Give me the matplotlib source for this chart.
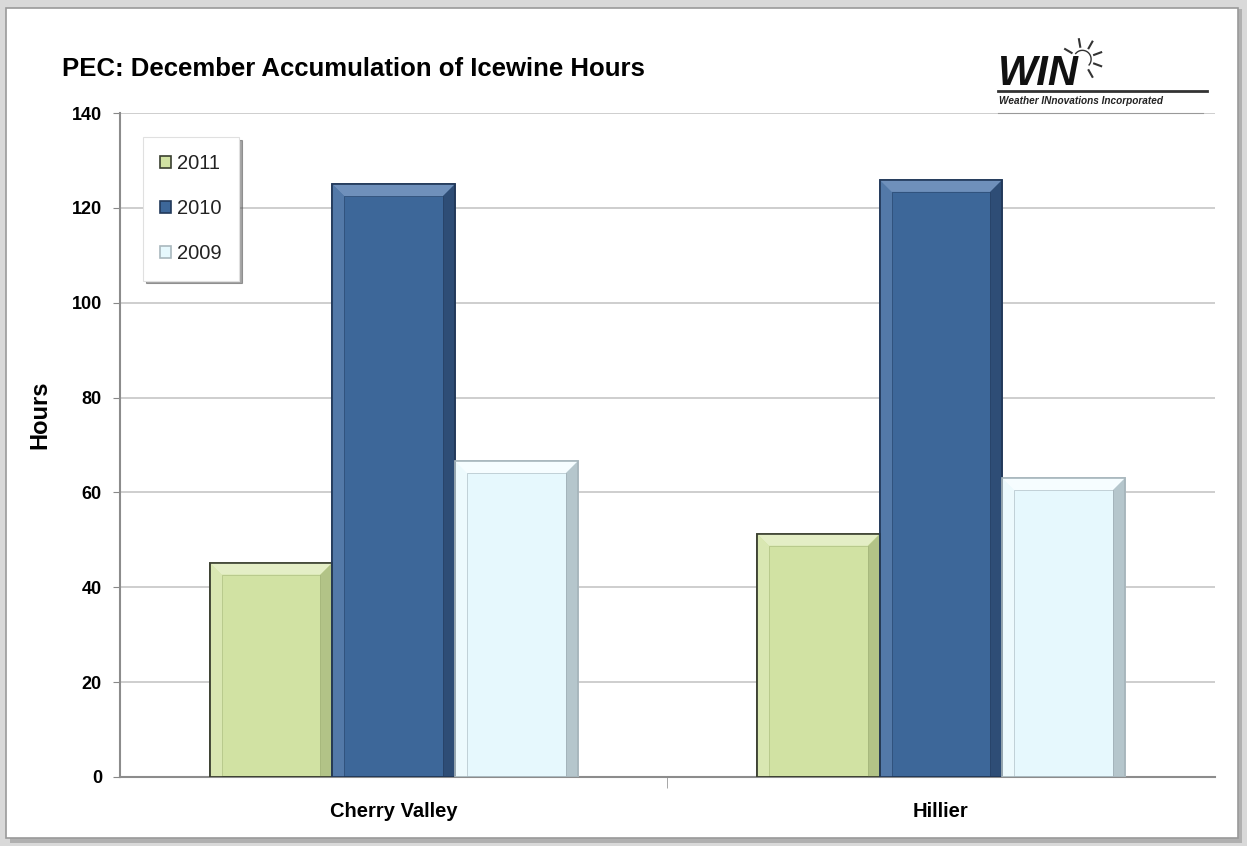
import matplotlib

matplotlib.use("Agg")
import matplotlib.pyplot as plt
import numpy as np
from matplotlib.patches import Polygon, Rectangle

plt.rcParams["font.family"] = ["Liberation Sans", "DejaVu Sans"]

# data
sites = ["Cherry Valley", "Hillier"]
years = ["2011", "2010", "2009"]
hours_2011 = [45.2, 51.3]
hours_2010 = [125.0, 125.9]
hours_2009 = [66.6, 63.0]
yticks = [0, 20, 40, 60, 80, 100, 120, 140]

face = {"2011": "#D1E2A3", "2010": "#3D6799", "2009": "#E6F8FD"}
light = {"2011": "#E4EEC6", "2010": "#6F90BB", "2009": "#F6FDFF"}
dark = {"2011": "#9AAA70", "2010": "#22395A", "2009": "#8E9DA4"}
edge = {"2011": "#3A3F30", "2010": "#22395A", "2009": "#A9B8BE"}

fig = plt.figure(figsize=(12.47, 8.46), dpi=100)
fig.patch.set_facecolor("white")

# outer frame with soft shadow
fig.add_artist(Rectangle((0.0, 0.0), 1.0, 1.0, transform=fig.transFigure,
                         facecolor="#D9D9D9", edgecolor="none", zorder=-3))
fig.add_artist(Rectangle((0.008, 0.004), 0.988, 0.985, transform=fig.transFigure,
                         facecolor="#B0B0B0", edgecolor="none", zorder=-2))
fig.add_artist(Rectangle((0.005, 0.009), 0.988, 0.982, transform=fig.transFigure,
                         facecolor="white", edgecolor="#9A9A9A", lw=1.2, zorder=-1))

ax = fig.add_axes([0.0962, 0.0816, 0.8778, 0.7848])
ax.set_facecolor("none")

x = np.arange(len(sites))
w = 0.224
series = {"2011": hours_2011, "2010": hours_2010, "2009": hours_2009}

# pixel -> data scale for bevel sizes
px_x = 1.0 / 548.0
px_y = 140.0 / 664.0
bx, by = 12 * px_x, 12 * px_y

handles = []
for i, yr in enumerate(years):
    bars = ax.bar(x + (i - 1) * w, series[yr], width=w, color=face[yr],
                  edgecolor=edge[yr], linewidth=1.2, zorder=3, label=yr)
    handles.append(bars)
    for b in bars:
        x0, x1 = b.get_x(), b.get_x() + b.get_width()
        h = b.get_height()
        # top bevel (lighter)
        ax.add_patch(Polygon([[x0, h], [x1, h], [x1 - bx, h - by], [x0 + bx, h - by]],
                             closed=True, facecolor=light[yr], edgecolor="none", zorder=4))
        # right bevel (darker)
        ax.add_patch(Polygon([[x1, h], [x1, 0], [x1 - bx, 0], [x1 - bx, h - by]],
                             closed=True, facecolor=dark[yr], edgecolor="none",
                             alpha=0.55, zorder=4))
        # left bevel (slightly lighter)
        ax.add_patch(Polygon([[x0, h], [x0, 0], [x0 + bx, 0], [x0 + bx, h - by]],
                             closed=True, facecolor=light[yr], edgecolor="none",
                             alpha=0.45, zorder=4))
        ax.add_patch(Rectangle((x0 + bx, 0), (x1 - x0) - 2 * bx, h - by,
                               facecolor="none", edgecolor=dark[yr], lw=0.6,
                               alpha=0.5, zorder=5))
        ax.add_patch(Rectangle((x0, 0), x1 - x0, h, facecolor="none",
                               edgecolor=edge[yr], lw=1.2, zorder=6))

ax.set_xlim(-0.5, 1.5)
ax.set_ylim(0, 140)
ax.set_yticks(yticks)
ax.set_yticklabels([str(v) for v in yticks], fontsize=13, fontweight="bold")
ax.set_xticks(x)
ax.set_xticklabels(sites, fontsize=14.5, fontweight="bold")
ax.tick_params(axis="x", length=0, pad=18)
ax.tick_params(axis="y", length=5, color="#888888", pad=8)
ax.set_xticks([0.5], minor=True)
ax.tick_params(axis="x", which="minor", length=8, color="#999999", direction="out")
ax.yaxis.grid(True, color="#C6C6C6", lw=1.2, zorder=0)
ax.set_axisbelow(True)
for s in ["top", "right"]:
    ax.spines[s].set_visible(False)
ax.spines["left"].set_color("#8C8C8C")
ax.spines["left"].set_linewidth(1.5)
ax.spines["bottom"].set_color("#8C8C8C")
ax.spines["bottom"].set_linewidth(1.5)

ax.set_ylabel("Hours", fontsize=17, fontweight="bold")
ax.yaxis.set_label_coords(-0.063, 0.545)

fig.text(0.05, 0.919, "PEC: December Accumulation of Icewine Hours",
         fontsize=18.5, fontweight="bold", ha="left", va="center")

leg = ax.legend(handles=handles, labels=years, loc="upper left",
                bbox_to_anchor=(0.021, 0.964), fontsize=14.5, frameon=True,
                fancybox=False, shadow=True, handlelength=0.55, handleheight=0.55,
                handletextpad=0.3, labelspacing=1.3, borderpad=0.85,
                borderaxespad=0.0)
leg.get_frame().set_edgecolor("#E0E0E0")
leg.get_frame().set_linewidth(0.8)
for t in leg.get_texts():
    t.set_color("#222222")

# logo, drawn as text and lines
fig.text(0.800, 0.912, "WIN", fontsize=30, fontweight="bold", style="italic",
         ha="left", va="center", color="#111111")
fig.text(0.801, 0.881, "Weather INnovations Incorporated", fontsize=7.2,
         fontweight="bold", style="italic", ha="left", va="center", color="#222222")
fig.add_artist(plt.Line2D([0.800, 0.968], [0.893, 0.893], transform=fig.transFigure,
                          color="#333333", lw=2))
fig.add_artist(plt.Line2D([0.800, 0.965], [0.867, 0.867], transform=fig.transFigure,
                          color="#999999", lw=0.8))
cx, cy = 0.868, 0.930
for ang in [100, 60, 20, -20, -60, 150]:
    a = np.deg2rad(ang)
    fig.add_artist(plt.Line2D([cx + 0.010 * np.cos(a), cx + 0.016 * np.cos(a)],
                              [cy + 0.015 * np.sin(a), cy + 0.024 * np.sin(a)],
                              transform=fig.transFigure, color="#333333", lw=1.5))
t = np.linspace(np.deg2rad(-40), np.deg2rad(140), 30)
fig.add_artist(plt.Line2D(cx + 0.007 * np.cos(t), cy + 0.0105 * np.sin(t),
                          transform=fig.transFigure, color="#333333", lw=1))

fig.savefig("out.png", dpi=100)
